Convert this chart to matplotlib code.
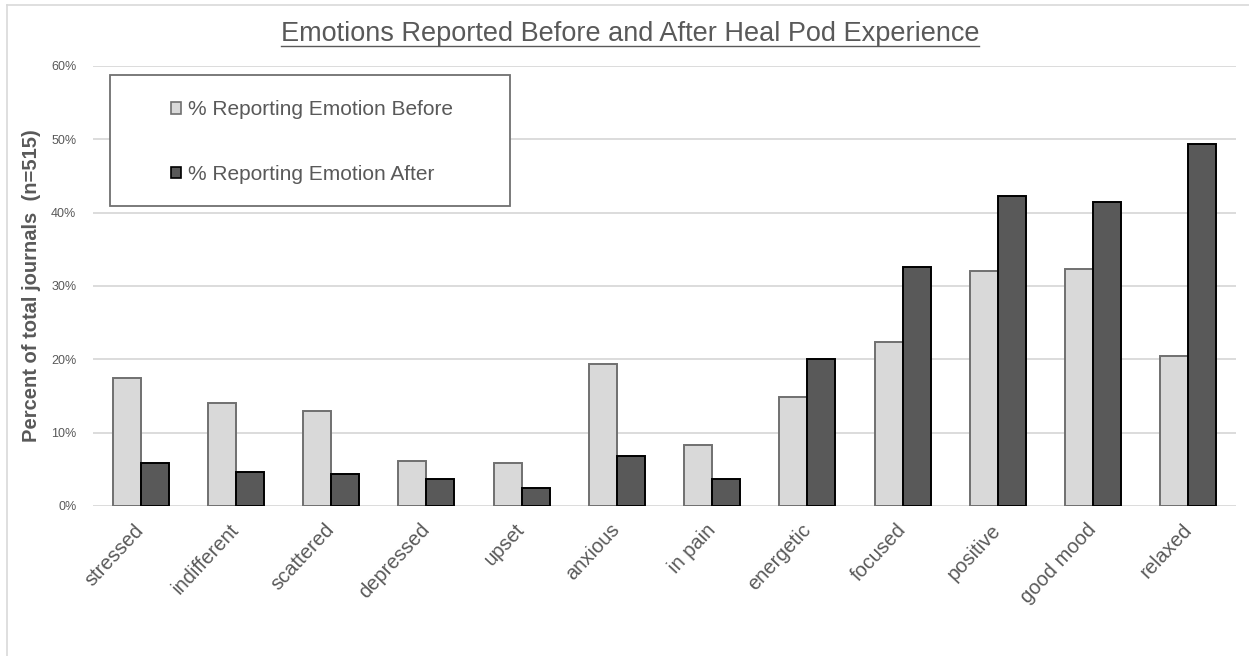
import numpy as np
import matplotlib.pyplot as plt
from matplotlib.lines import Line2D
from matplotlib.patches import Rectangle, Patch

# Emotions reported before / after a Heal Pod session (percent of 515 journals)
emotions = ['stressed', 'indifferent', 'scattered', 'depressed', 'upset', 'anxious',
            'in pain', 'energetic', 'focused', 'positive', 'good mood', 'relaxed']
before = [17.4, 14.1, 13.0, 6.2, 5.9, 19.4, 8.3, 14.8, 22.4, 32.1, 32.3, 20.4]
after = [5.9, 4.6, 4.4, 3.7, 2.5, 6.8, 3.7, 20.0, 32.6, 42.3, 41.4, 49.3]
yticks = [0, 10, 20, 30, 40, 50, 60]

plt.rcParams['font.family'] = ['Liberation Sans', 'DejaVu Sans']
grey_text = '#595959'

fig = plt.figure(figsize=(12.49, 6.56), dpi=100)
ax = fig.add_axes([93 / 1249, 1 - 506 / 656, 1143 / 1249, 440 / 656])

x = np.arange(len(emotions))
w = 0.295
ax.bar(x - w / 2, before, w, color='#d9d9d9', edgecolor='#707070', linewidth=1.4, zorder=3)
ax.bar(x + w / 2, after, w, color='#595959', edgecolor='#000000', linewidth=1.4, zorder=3)

ax.set_xlim(-0.5, len(emotions) - 0.5)
ax.set_ylim(0, 60)
ax.set_yticks(yticks)
ax.set_yticklabels([f'{t}%' for t in yticks], fontsize=9, color=grey_text)
ax.set_xticks(x)
ax.set_xticklabels(emotions, fontsize=14.5, color=grey_text, rotation=47,
                   ha='right', va='center', rotation_mode='anchor')
ax.tick_params(axis='both', length=0)
ax.tick_params(axis='y', pad=12)
ax.tick_params(axis='x', pad=15)
ax.grid(axis='y', color='#d9d9d9', linewidth=1.3, zorder=0)
for s in ax.spines.values():
    s.set_visible(False)

ax.set_ylabel('Percent of total journals  (n=515)', fontsize=14.5, fontweight='bold',
              color=grey_text)
ax.yaxis.set_label_coords(-(93 - 41) / 1143, 0.5)

# legend: frameless entries inside a drawn box
ax.add_patch(Rectangle(((110 - 93) / 1143, (506 - 206) / 440), 400 / 1143, 131 / 440,
                       transform=ax.transAxes, facecolor='white', edgecolor='#707070',
                       linewidth=1.3, zorder=5))
handles = [Patch(facecolor='#d9d9d9', edgecolor='#707070', linewidth=1.2),
           Patch(facecolor='#595959', edgecolor='#000000', linewidth=1.2)]
leg = fig.legend(handles, ['% Reporting Emotion Before', '% Reporting Emotion After'],
                 loc='upper left', bbox_to_anchor=(171 / 1249, 1 - 100 / 656),
                 frameon=False, fontsize=15, handlelength=0.5, handleheight=0.5,
                 handletextpad=0.3, labelspacing=2.2, borderpad=0, borderaxespad=0)
for t in leg.get_texts():
    t.set_color(grey_text)
leg.set_zorder(6)

# underlined title
title = fig.text(630 / 1249, 1 - 34 / 656, 'Emotions Reported Before and After Heal Pod Experience',
                 ha='center', va='center', fontsize=19.5, color=grey_text)
fig.canvas.draw()
bb = title.get_window_extent().transformed(fig.transFigure.inverted())
fig.add_artist(Line2D([bb.x0, bb.x1], [bb.y0 + 0.002, bb.y0 + 0.002],
                      transform=fig.transFigure, color=grey_text, linewidth=1.0))

# thin outer frame (top and left)
fig.add_artist(Line2D([7 / 1249, 1], [1 - 5 / 656, 1 - 5 / 656], transform=fig.transFigure,
                      color='#d9d9d9', linewidth=1.2))
fig.add_artist(Line2D([7 / 1249, 7 / 1249], [0, 1 - 5 / 656], transform=fig.transFigure,
                      color='#d9d9d9', linewidth=1.2))

fig.savefig('out.png', dpi=100)
